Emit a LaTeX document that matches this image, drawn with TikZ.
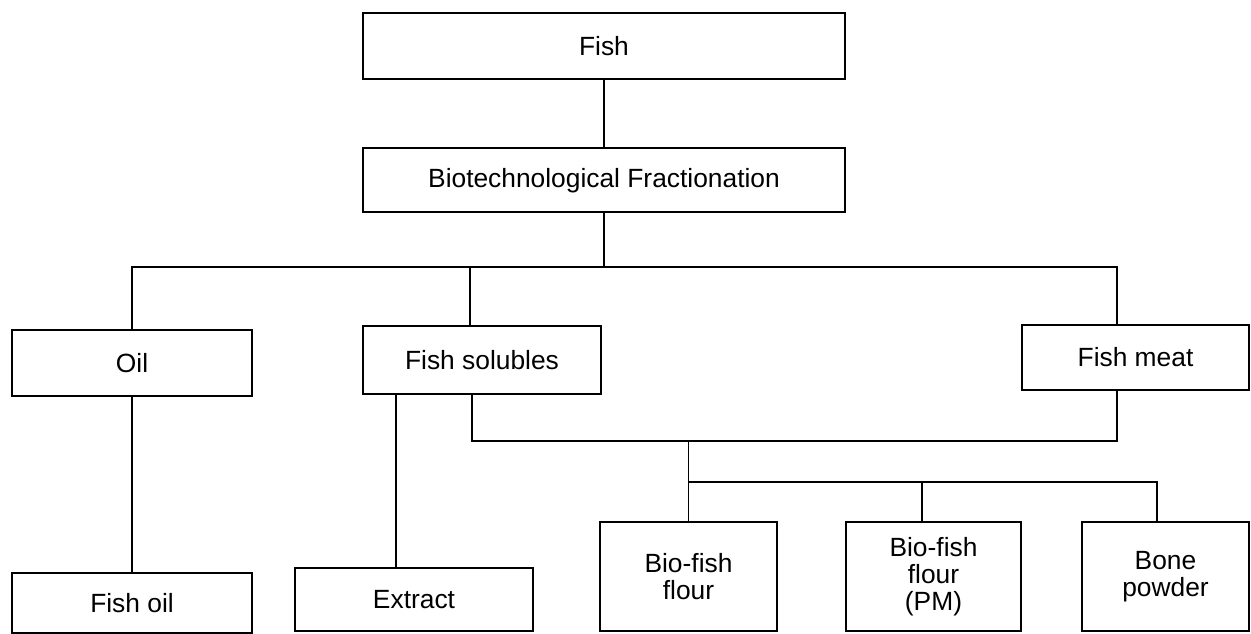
\documentclass[tikz,border=0pt]{standalone}
\usepackage{xcolor}
\usepackage{fontspec}
\setmainfont{Liberation Sans}
\usepackage{tikz}
\usetikzlibrary{positioning, calc}

\begin{document}
\begin{tikzpicture}[
    node distance=1.3cm,
    prodbox/.style={rectangle, draw, line width=1.3pt, fill=white, align=center, inner sep=0pt, font=\fontsize{15}{15.5}\selectfont, text=black},
    link/.style={line width=1.1pt, color=black}
]
\useasboundingbox (0,0) rectangle (25.02,-12.66);

\node[prodbox, minimum width=9.64cm, minimum height=1.32cm] (fish) at (12.08,-0.92) {Fish};
\node[prodbox, minimum width=9.64cm, minimum height=1.28cm, below=1.34cm of fish] (biotech) {Biotechnological Fractionation};

\node[prodbox, minimum width=4.8cm, minimum height=1.32cm] (oil) at (2.64,-7.26) {Oil};
\node[prodbox, minimum width=4.76cm, minimum height=1.36cm] (solubles) at (9.64,-7.2) {Fish solubles};
\node[prodbox, minimum width=4.54cm, minimum height=1.3cm] (meat) at (22.71,-7.15) {Fish meat};

\node[prodbox, minimum width=4.8cm, minimum height=1.2cm, below=3.5cm of oil] (fishoil) {Fish oil};
\node[prodbox, minimum width=4.76cm, minimum height=1.26cm] (extract) at (8.28,-11.99) {Extract};
\node[prodbox, minimum width=3.54cm, minimum height=2.18cm] (bioflour) at (13.77,-11.53) {Bio-fish\\flour};
\node[prodbox, minimum width=3.5cm, minimum height=2.18cm] (pmflour) at (18.67,-11.53) {Bio-fish\\flour\\(PM)};
\node[prodbox, minimum width=3.34cm, minimum height=2.18cm] (bone) at (23.31,-11.53) {Bone\\powder};

% bus lines
\coordinate (topbus) at (0,-5.34);
\coordinate (midbus) at (0,-8.82);
\coordinate (lowbus) at (0,-9.64);

\draw[link] (fish) -- (biotech);
\draw[link] (biotech) -- (biotech |- topbus);
\draw[link] (oil) -- (oil |- topbus) -- ([xshift=-0.37cm]meat.north |- topbus) -- ([xshift=-0.37cm]meat.north);
\draw[link] ([xshift=-0.24cm]solubles.north |- topbus) -- ([xshift=-0.24cm]solubles.north);

\draw[link] (oil) -- (fishoil);
\draw[link] ([xshift=-0.36cm]extract.north |- solubles.south) -- ([xshift=-0.36cm]extract.north);
\draw[link] ([xshift=-0.2cm]solubles.south) |- ([xshift=-0.37cm]meat.south |- midbus) -- ([xshift=-0.37cm]meat.south);

\draw[link] (bioflour.north |- midbus) -- (bioflour);
\draw[link] (bioflour.north |- lowbus) -- ([xshift=-0.17cm]bone.north |- lowbus) -- ([xshift=-0.17cm]bone.north);
\draw[link] ([xshift=-0.23cm]pmflour.north |- lowbus) -- ([xshift=-0.23cm]pmflour.north);
\end{tikzpicture}
\end{document}
